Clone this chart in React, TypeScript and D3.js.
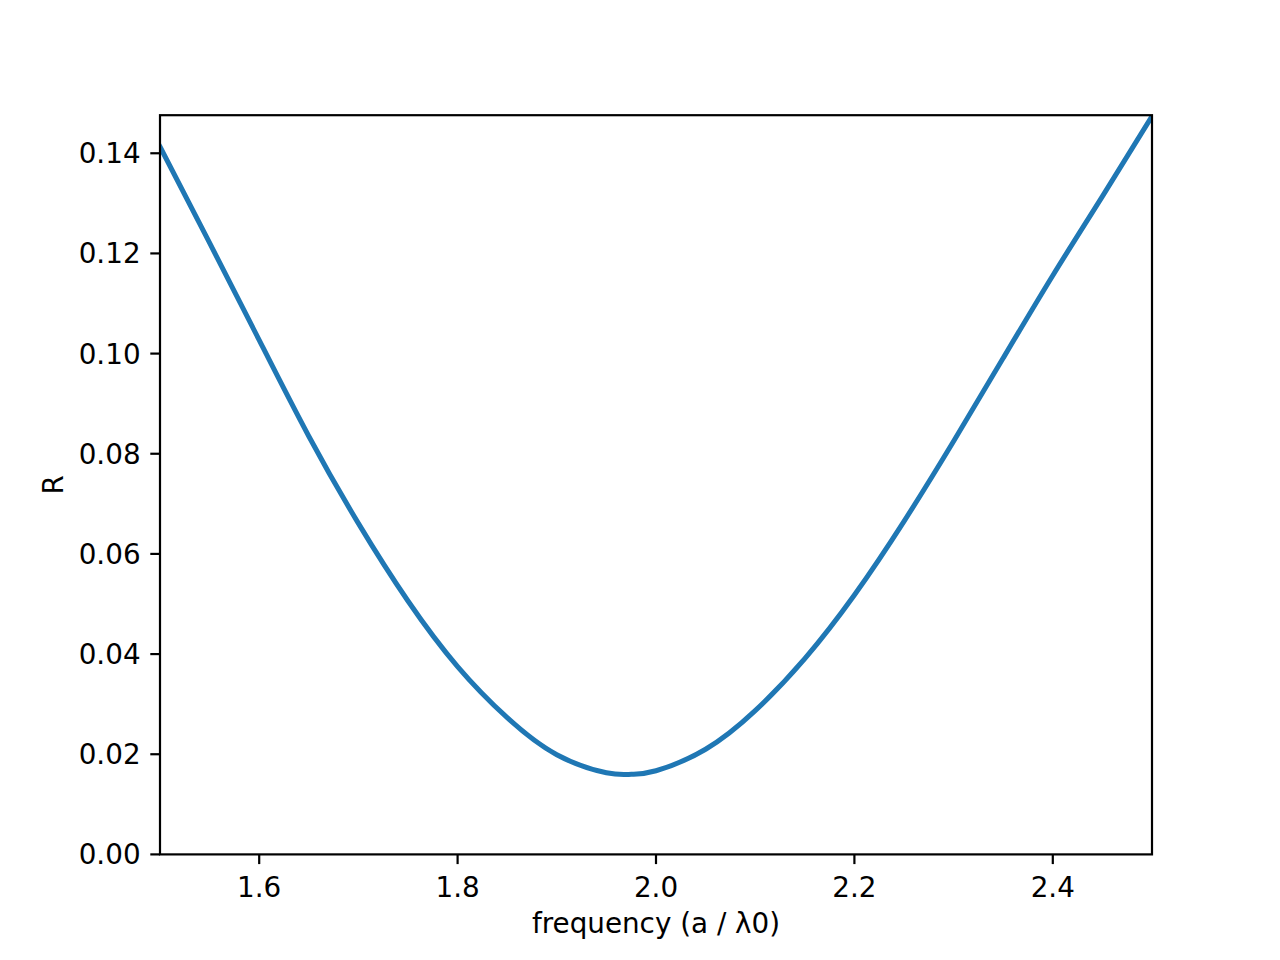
import React from "react";
import * as d3 from "d3";

const freq = [1.5, 1.55, 1.6, 1.65, 1.7, 1.75, 1.8, 1.85, 1.9, 1.95, 1.975, 2.0, 2.05, 2.1, 2.15, 2.2, 2.25, 2.3, 2.35, 2.4, 2.45, 2.5];
const reflect = [0.1413, 0.1221, 0.1027, 0.0835, 0.0661, 0.0506, 0.0375, 0.0273, 0.0199, 0.0163, 0.0160, 0.0167, 0.0210, 0.0287, 0.0391, 0.0518, 0.0665, 0.0825, 0.0991, 0.1156, 0.1314, 0.1474];
const xTicks = [1.6, 1.8, 2.0, 2.2, 2.4];
const yTicks = [0, 0.02, 0.04, 0.06, 0.08, 0.1, 0.12, 0.14];
const xDomain = [1.5, 2.5];
const yDomain = [0, 0.1476];

export default function App() {
  const W = 1280, H = 960;
  const L = 160, R = 1152, T = 115.2, B = 854.4;
  const x = d3.scaleLinear().domain(xDomain).range([L, R]);
  const y = d3.scaleLinear().domain(yDomain).range([B, T]);
  const pts = freq.map((f, i) => [f, reflect[i]] as [number, number]);
  const line = d3.line<[number, number]>().x(d => x(d[0])).y(d => y(d[1])).curve(d3.curveNatural);
  const font = "'DejaVu Sans', sans-serif";
  const fs = 27.8;
  const tl = 9.7;
  return (
    <svg width={W} height={H} style={{ position: "absolute", left: 0, top: 0, background: "#fff" }} fontFamily={font}>
      <rect x={0} y={0} width={W} height={H} fill="#fff" />
      <defs>
        <clipPath id="plotclip"><rect x={L} y={T} width={R - L} height={B - T} /></clipPath>
      </defs>
      <path d={line(pts) || ""} fill="none" stroke="#1f77b4" strokeWidth={5} strokeLinecap="square" strokeLinejoin="round" clipPath="url(#plotclip)" />
      <rect x={L} y={T} width={R - L} height={B - T} fill="none" stroke="#000" strokeWidth={2.2} />
      {xTicks.map(t => (
        <g key={"x" + t}>
          <line x1={x(t)} x2={x(t)} y1={B} y2={B + tl} stroke="#000" strokeWidth={2.2} />
          <text x={x(t)} y={897} fontSize={fs} textAnchor="middle" fill="#000">{d3.format(".1f")(t)}</text>
        </g>
      ))}
      {yTicks.map(t => (
        <g key={"y" + t}>
          <line x1={L - tl} x2={L} y1={y(t)} y2={y(t)} stroke="#000" strokeWidth={2.2} />
          <text x={140.6} y={y(t) + 10} fontSize={fs} textAnchor="end" fill="#000">{d3.format(".2f")(t)}</text>
        </g>
      ))}
      <text x={(L + R) / 2} y={933} fontSize={fs} textAnchor="middle" fill="#000">frequency (a / λ0)</text>
      <text transform={`translate(63, ${(T + B) / 2}) rotate(-90)`} fontSize={fs} textAnchor="middle" fill="#000">R</text>
    </svg>
  );
}
